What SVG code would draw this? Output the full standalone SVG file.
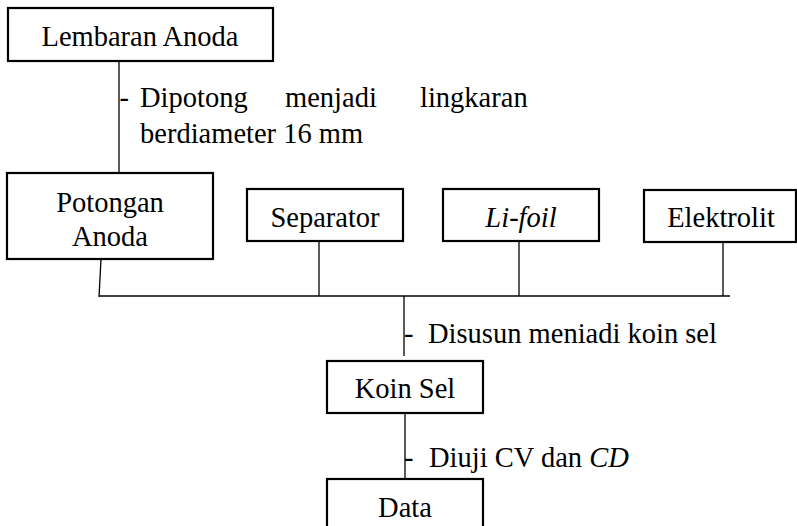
<svg xmlns="http://www.w3.org/2000/svg" width="797" height="526" viewBox="0 0 797 526">
  <style>
    .box { fill: #ffffff; stroke: #000000; stroke-width: 2.2; }
    .conn { fill: none; stroke: #000000; stroke-width: 1.3; }
    .t { font-family: "Liberation Serif", "Times New Roman", Times, Tinos, "Nimbus Roman", "Nimbus Roman No9 L", "Noto Serif", "FreeSerif", "DejaVu Serif", Georgia, serif; font-size: 28.5px; fill: #000000; }
    .c { text-anchor: middle; }
    .i { font-style: italic; }
  </style>
  <rect width="797" height="526" fill="#ffffff"/>

  <!-- connectors -->
  <g id="connectors">
    <line class="conn" x1="119" y1="61" x2="119" y2="173"/>
    <line class="conn" x1="101" y1="259" x2="99" y2="297"/>
    <line class="conn" x1="319" y1="241" x2="319" y2="296"/>
    <line class="conn" x1="519" y1="241" x2="519" y2="296"/>
    <line class="conn" x1="723" y1="242" x2="723" y2="296"/>
    <line class="conn" x1="99" y1="296" x2="730" y2="296"/>
    <line class="conn" x1="404" y1="296" x2="404" y2="356"/>
    <line class="conn" x1="405" y1="413" x2="405" y2="479"/>
  </g>

  <!-- connector labels -->
  <g id="labels">
    <text class="t" y="107"><tspan x="119.5">-</tspan><tspan x="140">Dipotong</tspan><tspan x="285">menjadi</tspan><tspan x="420">lingkaran</tspan></text>
    <text class="t" x="140" y="143">berdiameter 16 mm</text>
    <text class="t" y="343"><tspan x="404">-</tspan><tspan x="428">Disusun meniadi koin sel</tspan></text>
    <text class="t" y="467"><tspan x="404">-</tspan><tspan x="429">Diuji CV dan </tspan><tspan class="i">CD</tspan></text>
  </g>

  <g id="lembaran-anoda">
    <rect class="box" x="8" y="8" width="265" height="53"/>
    <text class="t c" x="140" y="46">Lembaran Anoda</text>
  </g>

  <g id="potongan-anoda">
    <rect class="box" x="7" y="173" width="206" height="86"/>
    <text class="t c" x="110" y="212">Potongan</text>
    <text class="t c" x="110" y="246">Anoda</text>
  </g>

  <g id="separator">
    <rect class="box" x="247" y="189" width="156" height="52"/>
    <text class="t c" x="325" y="227">Separator</text>
  </g>

  <g id="li-foil">
    <rect class="box" x="443" y="189" width="156" height="52"/>
    <text class="t c i" x="521" y="227">Li-foil</text>
  </g>

  <g id="elektrolit">
    <rect class="box" x="644" y="190" width="152" height="52"/>
    <text class="t c" x="721" y="227">Elektrolit</text>
  </g>

  <g id="koin-sel">
    <rect class="box" x="327" y="361" width="156" height="52"/>
    <text class="t c" x="405" y="398">Koin Sel</text>
  </g>

  <g id="data">
    <rect class="box" x="327" y="479" width="156" height="60"/>
    <text class="t c" x="405" y="517">Data</text>
  </g>
</svg>
